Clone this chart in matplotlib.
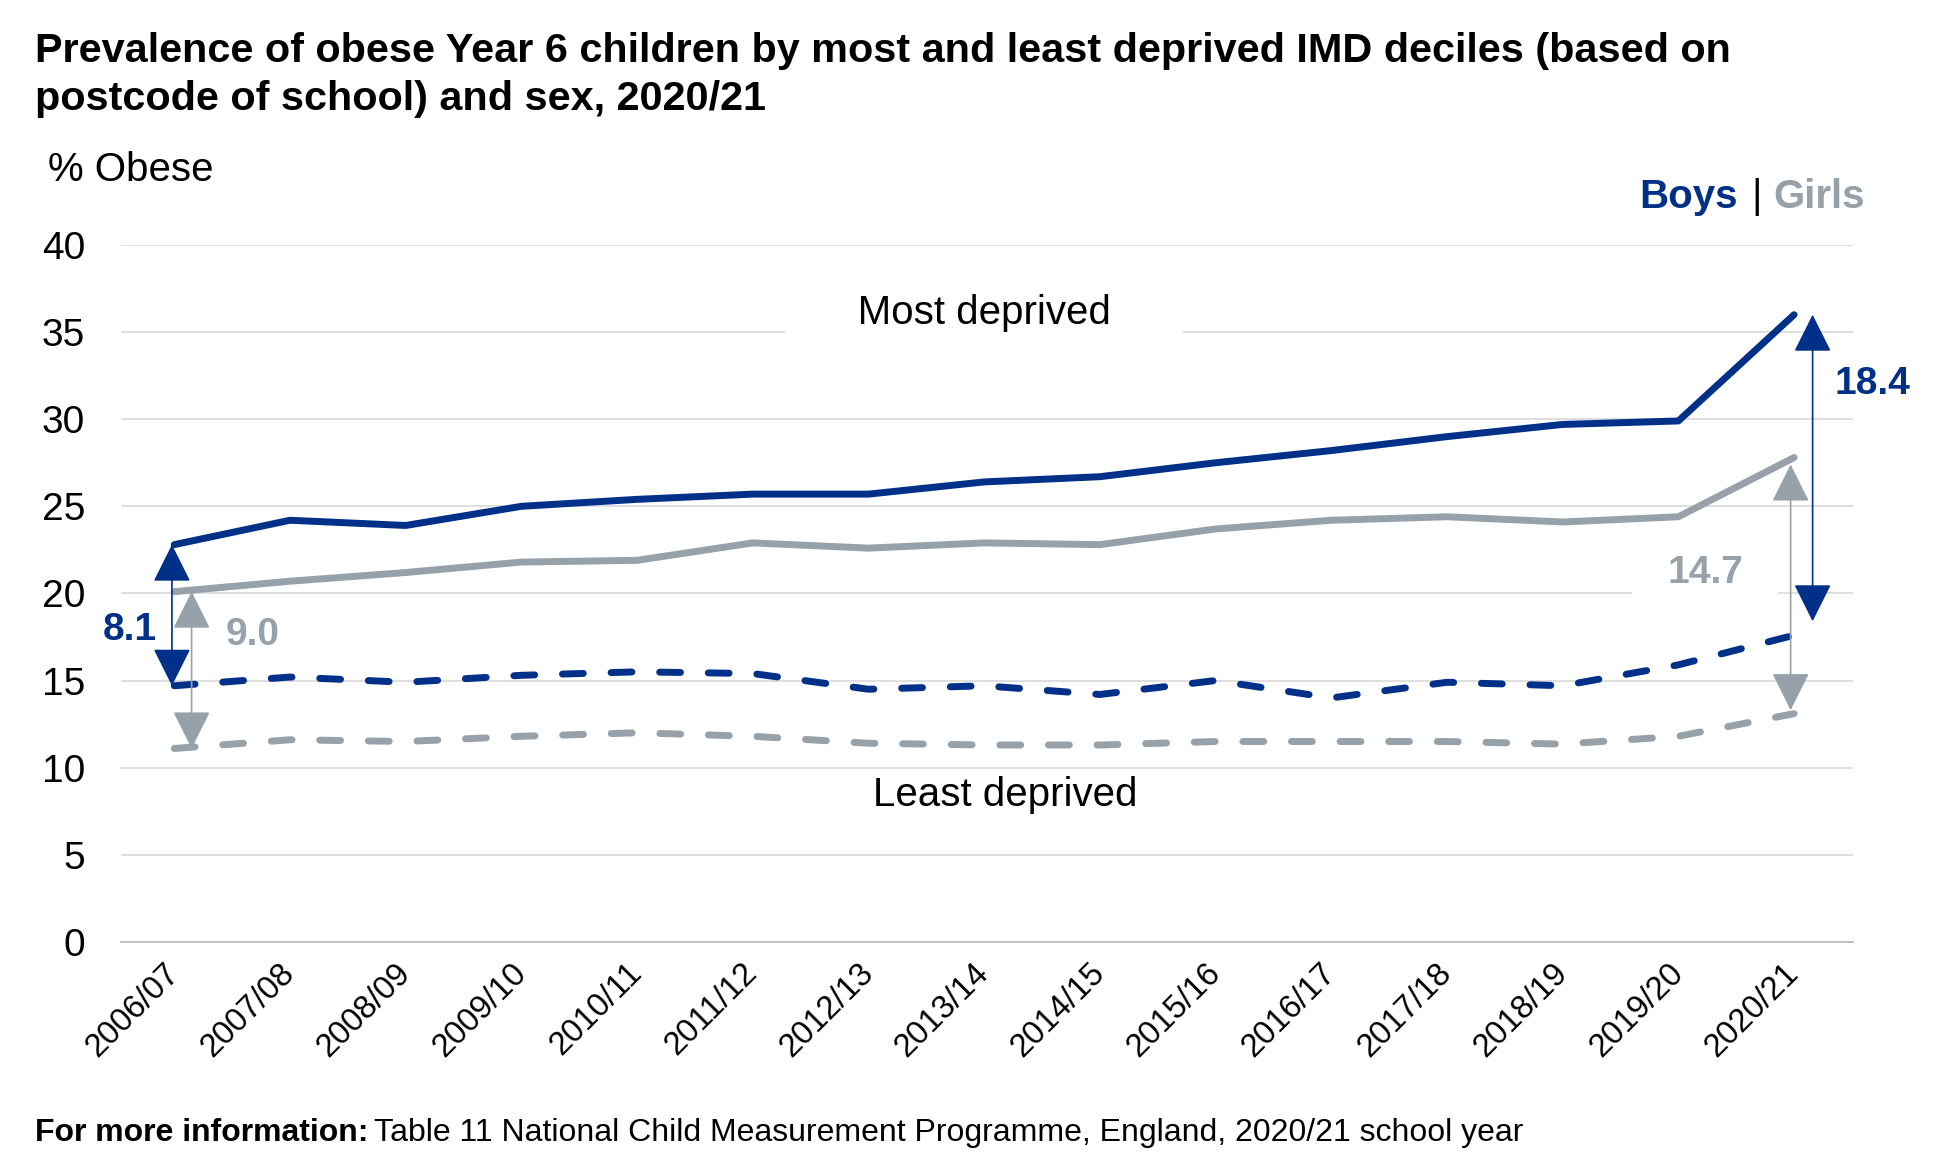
import matplotlib.pyplot as plt

plt.rcParams['font.family'] = ['Liberation Sans', 'DejaVu Sans']

# years of the school measurement
years = ['2006/07', '2007/08', '2008/09', '2009/10', '2010/11', '2011/12', '2012/13',
         '2013/14', '2014/15', '2015/16', '2016/17', '2017/18', '2018/19', '2019/20', '2020/21']

# % obese, most deprived decile
boys_most = [22.8, 24.2, 23.9, 25.0, 25.4, 25.7, 25.7, 26.4, 26.7, 27.5, 28.2, 29.0, 29.7, 29.9, 36.0]
girls_most = [20.1, 20.7, 21.2, 21.8, 21.9, 22.9, 22.6, 22.9, 22.8, 23.7, 24.2, 24.4, 24.1, 24.4, 27.8]

# % obese, least deprived decile
boys_least = [14.7, 15.2, 14.9, 15.3, 15.5, 15.4, 14.5, 14.7, 14.2, 15.0, 14.0, 14.9, 14.7, 15.9, 17.6]
girls_least = [11.1, 11.6, 11.5, 11.8, 12.0, 11.8, 11.4, 11.3, 11.3, 11.5, 11.5, 11.5, 11.35, 11.8, 13.1]

bleu = '#003087'
gris = '#97A1A9'

fig = plt.figure(figsize=(19.49, 11.70), dpi=100)
ax = fig.add_axes([0.0621, 0.195, 0.8887, 0.5956])

x = list(range(len(years)))
ax.plot(x, boys_most, color=bleu, lw=5, solid_capstyle='round', zorder=4)
ax.plot(x, girls_most, color=gris, lw=5, solid_capstyle='round', zorder=3)
ax.plot(x, boys_least, color=bleu, lw=5, dashes=(3.0, 4.0), dash_capstyle='round', zorder=4)
ax.plot(x, girls_least, color=gris, lw=5, dashes=(3.0, 4.0), dash_capstyle='round', zorder=3)

ax.set_ylim(0, 40)
ax.set_xlim(-0.46, len(years) - 0.49)
ax.set_yticks(range(0, 41, 5))
ax.set_xticks(x)
ax.set_xticklabels(years, rotation=45, ha='right', va='center', rotation_mode='anchor')
ax.tick_params(axis='y', labelsize=28, length=0, pad=26)
ax.tick_params(axis='x', labelsize=23.5, length=0, pad=19)
ax.grid(axis='y', color='#D9D9D9', lw=1.2)
ax.set_axisbelow(True)
for s in ['top', 'right', 'left']:
    ax.spines[s].set_visible(False)
ax.spines['bottom'].set_color('#BFBFBF')
ax.spines['bottom'].set_linewidth(1.4)

# double arrows showing the gap between the deciles
def fleche(xpos, y0, y1, couleur):
    ax.annotate('', xy=(xpos, y1), xytext=(xpos, y0),
                arrowprops=dict(arrowstyle='<|-|>,head_length=2.4,head_width=1.2',
                                color=couleur, lw=1.2, shrinkA=0, shrinkB=0), zorder=5)

fleche(-0.02, boys_least[0], boys_most[0], bleu)
fleche(0.15, girls_least[0], girls_most[0], gris)
fleche(14.16, boys_least[-1] + 0.8, boys_most[-1], bleu)
fleche(13.97, girls_least[-1] + 0.2, girls_most[-1] - 0.4, gris)

ecart_boys_1 = boys_most[0] - boys_least[0]
ecart_girls_1 = girls_most[0] - girls_least[0]
ecart_boys_2 = boys_most[-1] - boys_least[-1]
ecart_girls_2 = girls_most[-1] - girls_least[-1]

ax.text(-0.38, 17.9, f'{ecart_boys_1:.1f}', color=bleu, fontsize=28, fontweight='bold',
        ha='center', va='center')
ax.text(0.68, 17.6, f'{ecart_girls_1:.1f}', color=gris, fontsize=28, fontweight='bold',
        ha='center', va='center')
ax.text(14.68, 32.0, f'{ecart_boys_2:.1f}', color=bleu, fontsize=28, fontweight='bold',
        ha='center', va='center', bbox=dict(fc='white', ec='none', pad=3), zorder=2)
ax.text(13.23, 21.2, f'{ecart_girls_2:.1f}', color=gris, fontsize=28, fontweight='bold',
        ha='center', va='center', bbox=dict(fc='white', ec='none', pad=25), zorder=2)

ax.text(7.0, 36.1, '      Most deprived      ', fontsize=29, ha='center', va='center',
        bbox=dict(fc='white', ec='none', pad=4), zorder=2)
ax.text(7.18, 8.45, 'Least deprived', fontsize=29, ha='center', va='center')

fig.text(0.018, 0.947, 'Prevalence of obese Year 6 children by most and least deprived IMD deciles (based on',
         fontsize=29.8, fontweight='bold', va='baseline')
fig.text(0.018, 0.906, 'postcode of school) and sex, 2020/21', fontsize=29.8, fontweight='bold',
         va='baseline')
fig.text(0.0246, 0.855, '% Obese', fontsize=29, va='center')

# legend as coloured text
fig.text(0.957, 0.832, 'Girls', color=gris, fontsize=29, fontweight='bold', ha='right', va='center')
fig.text(0.9015, 0.832, '|', color='black', fontsize=29, ha='center', va='center')
fig.text(0.8917, 0.832, 'Boys', color=bleu, fontsize=29, fontweight='bold', ha='right', va='center')

# source line: bold part then plain part right after it
gras = fig.text(0.018, 0.032, 'For more information:', fontsize=23, fontweight='bold', va='center')
fig.canvas.draw()
bb = gras.get_window_extent().transformed(fig.transFigure.inverted())
fig.text(bb.x1 + 0.003, 0.032, 'Table 11 National Child Measurement Programme, England, 2020/21 school year',
         fontsize=23, va='center')

fig.savefig('out.png', dpi=100)
